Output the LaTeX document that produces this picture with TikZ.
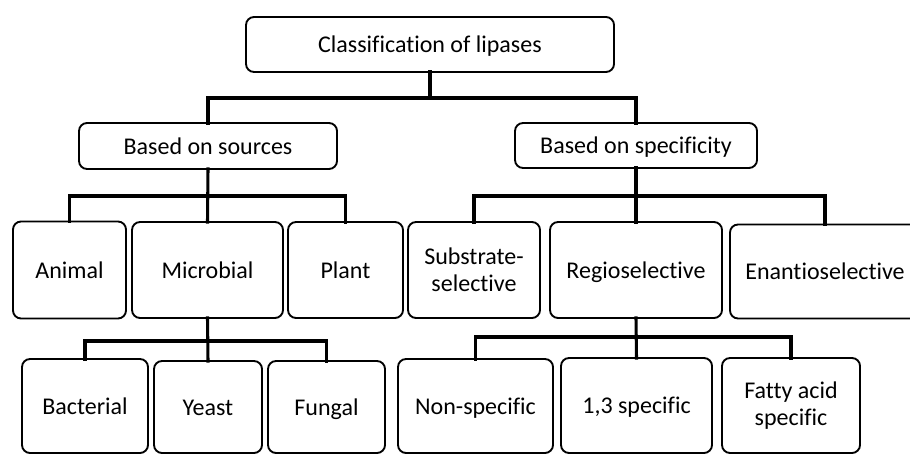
\documentclass[tikz,border=0pt]{standalone}
\usepackage{fontspec}
\setmainfont{Carlito}[Ligatures=NoCommon]

\tikzset{every picture/.style={line width=0.75pt}}
\tikzset{
  box/.style 2 args={draw, rounded corners=6pt, line width=1.4pt, inner sep=0pt, outer sep=0pt,
    align=center, font=\fontsize{18}{20}\selectfont, text height=12.5pt, text depth=0pt,
    minimum width=#1*0.75pt, minimum height=#2*0.75pt},
  twoline/.style={text height=, text depth=},
  conn/.style={line width=2.3pt, line cap=rect}
}

\begin{document}
\begin{tikzpicture}[x=0.75pt,y=0.75pt,yscale=-1,xscale=1]
        %set diagram size to 910 x 456
        \path[use as bounding box, clip] (0,0) rectangle (910,456);

        %Shape: Rounded Rect [top]
        \node[box={368}{55}] (root) at (430,44.5) {Classification of lipases};

        %Shape: Rounded Rect [second row]
        \node[box={258}{46}] (src) at (208,146) {Based on sources};
        \node[box={242}{45}] (spec) at (636,145.5) {Based on specificity};

        %Shape: Rounded Rect [third row]
        \node[box={113}{97}] (animal) at (69.5,270) {Animal};
        \node[box={151}{96}] (micro) at (207.5,270) {Microbial};
        \node[box={115}{96}] (plant) at (345.5,270) {Plant};
        \node[box={132}{96}, twoline] (subs) at (474,270) {Substrate-\\selective};
        \node[box={172}{96}] (regio) at (636,270) {Regioselective};
        \node[box={190}{94}] (enan) at (825,271.5) {Enantioselective};

        %Shape: Rounded Rect [fourth row]
        \node[box={126}{94}] (bact) at (85,406) {Bacterial};
        \node[box={108}{92}] (yeast) at (208,407) {Yeast};
        \node[box={117}{92}] (fung) at (326.5,407) {Fungal};
        \node[box={155}{94}] (nonsp) at (475.5,406) {Non-specific};
        \node[box={151}{95}] (onethree) at (636.5,405.5) {1,3 specific};
        \node[box={138}{95}, twoline] (fatty) at (791,405.5) {Fatty acid\\specific};

        %Straight Lines [bar points]
        \coordinate (bar1) at (430,98);
        \coordinate (bar2) at (208,196);
        \coordinate (bar3) at (636,196);
        \coordinate (bar4) at (207.5,341);
        \coordinate (bar5) at (636,337);

        %Straight Lines [top level]
        \draw[conn] (root.south) -- (bar1);
        \draw[conn] (src.north) |- (bar1) -| (spec.north);

        %Straight Lines [sources]
        \draw[conn] (src.south) -- (micro.north);
        \draw[conn] (animal.north) |- (bar2) -| (plant.north);

        %Straight Lines [specificity]
        \draw[conn] (spec.south) -- (regio.north);
        \draw[conn] (subs.north) |- (bar3) -| (enan.north);

        %Straight Lines [microbial]
        \draw[conn] (micro.south) -- (yeast.north);
        \draw[conn] (bact.north) |- (bar4) -| (fung.north);

        %Straight Lines [regioselective]
        \draw[conn] (regio.south) -- (onethree.north);
        \draw[conn] (nonsp.north) |- (bar5) -| (fatty.north);

    \end{tikzpicture}
\end{document}
